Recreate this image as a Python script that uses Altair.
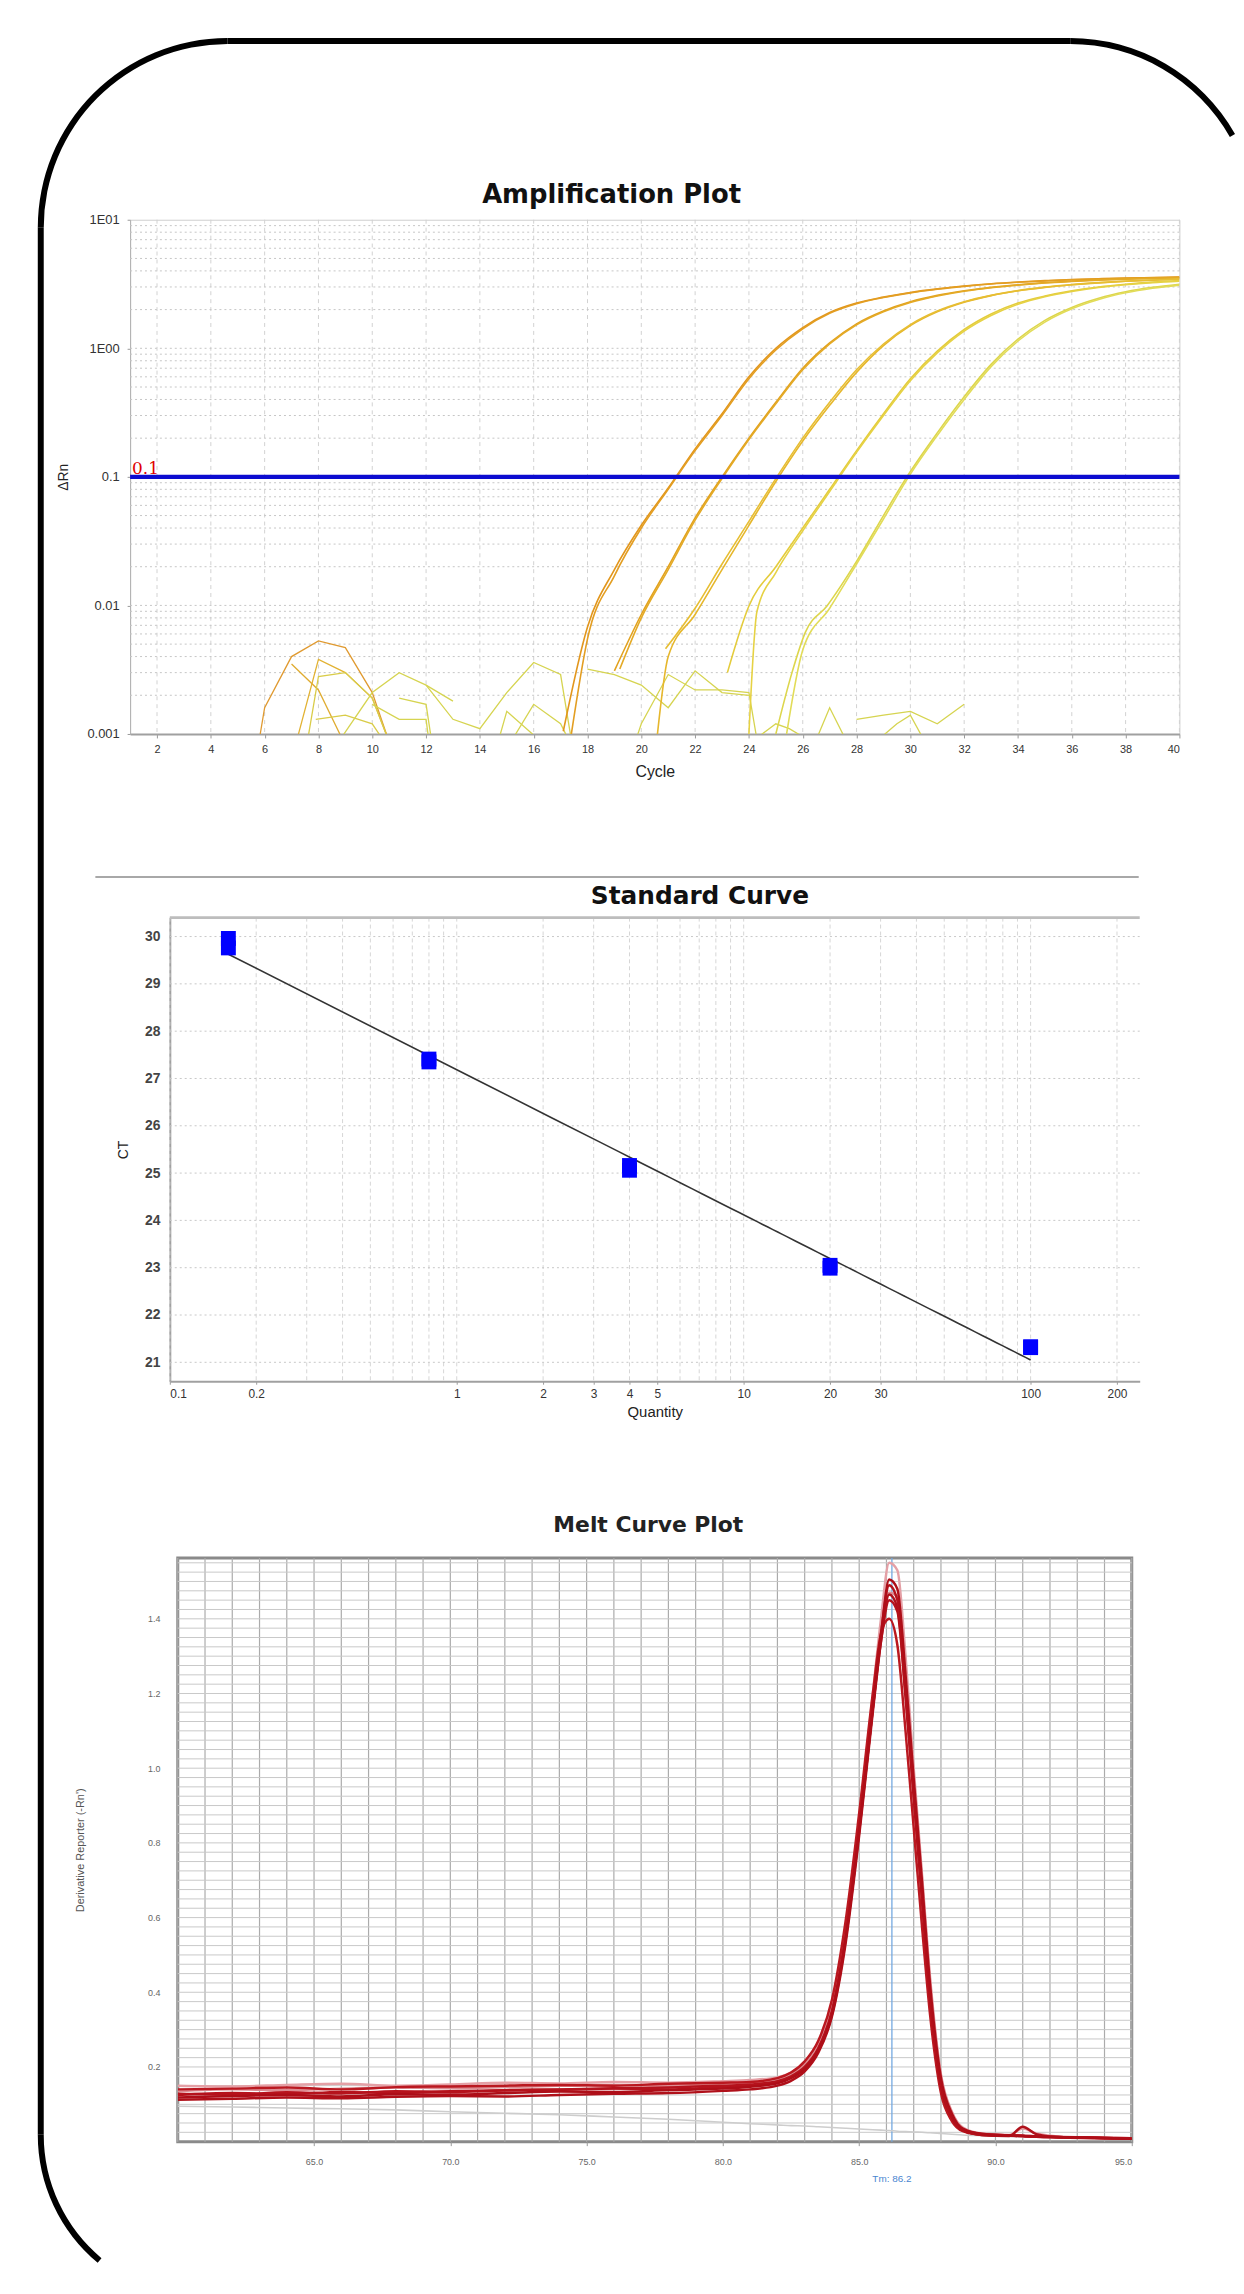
import altair as alt
import pandas as pd

# ---------------- Amplification plot (delta Rn vs cycle) ----------------
A1_CYC = [17.1, 18, 19, 20, 21, 22, 23, 24, 25, 26, 27, 28, 29, 30, 31, 32, 33, 34, 35, 36, 37, 38, 39, 40]
A1_VAL = [0.00105, 0.0068, 0.019, 0.042, 0.082, 0.165, 0.31, 0.6, 1.0, 1.45, 1.9, 2.25, 2.5, 2.72, 2.9, 3.05, 3.18, 3.28, 3.36, 3.43, 3.48, 3.52, 3.55, 3.58]
A2_CYC = [17.4, 18, 19, 20, 21, 22, 23, 24, 25, 26, 27, 28, 29, 30, 31, 32, 33, 34, 35, 36, 37, 38, 39, 40]
A2_VAL = [0.001, 0.0055, 0.017, 0.04, 0.08, 0.16, 0.30, 0.58, 0.97, 1.42, 1.87, 2.22, 2.48, 2.7, 2.88, 3.03, 3.16, 3.26, 3.34, 3.41, 3.46, 3.5, 3.53, 3.56]
B1_CYC = [19, 20, 21, 22, 23, 24, 25, 26, 27, 28, 29, 30, 31, 32, 33, 34, 35, 36, 37, 38, 39, 40]
B1_VAL = [0.0031, 0.0085, 0.02, 0.048, 0.1, 0.2, 0.38, 0.7, 1.1, 1.55, 1.95, 2.3, 2.58, 2.8, 2.98, 3.12, 3.24, 3.33, 3.41, 3.47, 3.52, 3.55]
B2_CYC = [19.2, 20, 21, 22, 23, 24, 25, 26, 27, 28, 29, 30, 31, 32, 33, 34, 35, 36, 37, 38, 39, 40]
B2_VAL = [0.0032, 0.008, 0.019, 0.046, 0.097, 0.195, 0.37, 0.68, 1.08, 1.52, 1.92, 2.27, 2.55, 2.78, 2.96, 3.1, 3.22, 3.31, 3.39, 3.45, 3.5, 3.53]
C1_CYC = [20.6, 21, 22, 23, 24, 25, 26, 27, 28, 29, 30, 31, 32, 33, 34, 35, 36, 37, 38, 39, 40]
C1_VAL = [0.001, 0.004, 0.0085, 0.019, 0.042, 0.092, 0.19, 0.36, 0.65, 1.05, 1.5, 1.92, 2.28, 2.57, 2.8, 2.98, 3.12, 3.23, 3.32, 3.39, 3.45]
C2_CYC = [20.9, 22, 23, 24, 25, 26, 27, 28, 29, 30, 31, 32, 33, 34, 35, 36, 37, 38, 39, 40]
C2_VAL = [0.0046, 0.0095, 0.021, 0.045, 0.097, 0.2, 0.38, 0.68, 1.08, 1.53, 1.95, 2.3, 2.58, 2.81, 2.99, 3.13, 3.24, 3.33, 3.4, 3.46]
D1_CYC = [23.2, 24, 25, 26, 27, 28, 29, 30, 31, 32, 33, 34, 35, 36, 37, 38, 39, 40]
D1_VAL = [0.003, 0.0099, 0.02, 0.04, 0.08, 0.16, 0.31, 0.58, 0.95, 1.4, 1.85, 2.25, 2.55, 2.8, 3.0, 3.15, 3.27, 3.36]
D2_CYC = [24.0, 24.3, 25, 26, 27, 28, 29, 30, 31, 32, 33, 34, 35, 36, 37, 38, 39, 40]
D2_VAL = [0.001, 0.009, 0.018, 0.038, 0.077, 0.155, 0.3, 0.56, 0.92, 1.36, 1.8, 2.2, 2.52, 2.77, 2.97, 3.12, 3.24, 3.33]
E1_CYC = [25.0, 25.6, 26.1, 26.9, 28, 29, 30, 31, 32, 33, 34, 35, 36, 37, 38, 39, 40]
E1_VAL = [0.001, 0.003, 0.0062, 0.0099, 0.022, 0.05, 0.11, 0.22, 0.42, 0.75, 1.18, 1.65, 2.08, 2.45, 2.75, 2.98, 3.15]
E2_CYC = [25.4, 26, 27, 28, 29, 30, 31, 32, 33, 34, 35, 36, 37, 38, 39, 40]
E2_VAL = [0.001, 0.0045, 0.0095, 0.021, 0.047, 0.105, 0.21, 0.4, 0.72, 1.14, 1.6, 2.03, 2.4, 2.7, 2.93, 3.1]

# baseline noise traces (below threshold)
N1_CYC = [5.8, 6, 7, 8, 9, 10, 10.6]
N1_VAL = [0.0009, 0.0016, 0.004, 0.0053, 0.0047, 0.0021, 0.0009]
N2_CYC = [7, 8, 8.9]
N2_VAL = [0.0035, 0.0022, 0.0009]
N3_CYC = [7.2, 8, 9, 10, 10.6]
N3_VAL = [0.0009, 0.0038, 0.003, 0.0019, 0.0009]
N4_CYC = [7.6, 8, 9, 10, 10.6]
N4_VAL = [0.0009, 0.0028, 0.003, 0.0019, 0.0009]
N5_CYC = [7.9, 9, 10, 10.4]
N5_VAL = [0.0013, 0.0014, 0.0012, 0.0009]
N6_CYC = [8.8, 10, 11, 12, 13]
N6_VAL = [0.0009, 0.0021, 0.003, 0.0024, 0.0018]
N7_CYC = [11, 12, 12.2]
N7_VAL = [0.0019, 0.0017, 0.0009]
N8_CYC = [10, 11, 12, 12.1]
N8_VAL = [0.0017, 0.0013, 0.0013, 0.0009]
N9_CYC = [12, 13, 14, 15, 16, 17, 17.4]
N9_VAL = [0.0024, 0.0013, 0.0011, 0.0021, 0.0036, 0.0029, 0.0009]
N10_CYC = [14.7, 15, 16, 16.5]
N10_VAL = [0.0009, 0.0015, 0.00098, 0.0009]
N11_CYC = [15.2, 16, 17, 17.3]
N11_VAL = [0.0009, 0.0017, 0.0012, 0.0009]
N12_CYC = [18, 19, 20, 21, 22, 23, 24]
N12_VAL = [0.0032, 0.0029, 0.0024, 0.0016, 0.0031, 0.0021, 0.002]
N13_CYC = [19.8, 20, 21, 22, 23, 24, 24.3]
N13_VAL = [0.0009, 0.0012, 0.0029, 0.0022, 0.0022, 0.0021, 0.0009]
N14_CYC = [24.2, 25, 25.5, 26.2]
N14_VAL = [0.0009, 0.0012, 0.0011, 0.0009]
N15_CYC = [26.5, 27, 27.6]
N15_VAL = [0.0009, 0.0016, 0.0009]
N16_CYC = [28, 29, 30, 31, 32]
N16_VAL = [0.0013, 0.0014, 0.0015, 0.0012, 0.0017]
N17_CYC = [28.8, 29.5, 30, 30.5]
N17_VAL = [0.0009, 0.0012, 0.0014, 0.0009]

AMP_X_TICKS = [2, 4, 6, 8, 10, 12, 14, 16, 18, 20, 22, 24, 26, 28, 30, 32, 34, 36, 38, 40]
AMP_Y_TICKS = [0.001, 0.01, 0.1, 1, 10]
THRESHOLD = 0.1

# ---------------- Standard curve ----------------
STD_QTY = [0.16, 0.16, 0.8, 0.8, 4, 4, 20, 20, 100, 100]
STD_CT = [29.96, 29.76, 27.41, 27.35, 25.16, 25.06, 23.05, 22.99, 21.33, 21.31]
STD_X_TICKS = [0.1, 0.2, 1, 2, 3, 4, 5, 10, 20, 30, 100, 200]
STD_Y_TICKS = [21, 22, 23, 24, 25, 26, 27, 28, 29, 30]

# ---------------- Melt curve ----------------
MELT_T = [60, 62, 64, 66, 68, 70, 72, 74, 76, 78, 80, 81, 82, 82.5, 83, 83.5, 84, 84.5, 85, 85.5,
          85.8, 86.1, 86.4, 86.7, 87, 87.3, 87.6, 88, 88.4, 88.8, 89.5, 90.5, 91, 91.5, 92.5, 94, 95]
M1 = [0.125, 0.130, 0.127, 0.133, 0.130, 0.135, 0.138, 0.140, 0.143, 0.145, 0.150, 0.153, 0.162, 0.175, 0.200, 0.250, 0.350, 0.550, 0.840, 1.170,
      1.360, 1.490, 1.450, 1.220, 0.950, 0.680, 0.400, 0.160, 0.070, 0.032, 0.020, 0.016, 0.015, 0.014, 0.012, 0.010, 0.008]
M2 = [0.112, 0.115, 0.118, 0.116, 0.120, 0.122, 0.121, 0.125, 0.128, 0.130, 0.136, 0.140, 0.150, 0.163, 0.188, 0.238, 0.335, 0.530, 0.820, 1.150,
      1.340, 1.465, 1.430, 1.200, 0.930, 0.660, 0.390, 0.150, 0.065, 0.030, 0.018, 0.015, 0.040, 0.020, 0.011, 0.009, 0.008]
M3 = [0.140, 0.142, 0.145, 0.140, 0.146, 0.148, 0.150, 0.152, 0.150, 0.155, 0.158, 0.160, 0.170, 0.185, 0.215, 0.270, 0.380, 0.590, 0.880, 1.200,
      1.360, 1.400, 1.330, 1.100, 0.840, 0.580, 0.340, 0.130, 0.055, 0.028, 0.018, 0.016, 0.015, 0.013, 0.012, 0.010, 0.009]
M4 = [0.118, 0.122, 0.125, 0.121, 0.127, 0.126, 0.130, 0.134, 0.133, 0.138, 0.142, 0.147, 0.156, 0.170, 0.195, 0.245, 0.340, 0.540, 0.830, 1.160,
      1.355, 1.505, 1.480, 1.250, 0.970, 0.700, 0.420, 0.170, 0.075, 0.035, 0.021, 0.017, 0.016, 0.014, 0.012, 0.010, 0.008]
M5 = [0.150, 0.148, 0.152, 0.155, 0.150, 0.153, 0.158, 0.156, 0.160, 0.158, 0.162, 0.165, 0.172, 0.185, 0.210, 0.260, 0.360, 0.560, 0.860, 1.200,
      1.400, 1.550, 1.530, 1.300, 1.000, 0.720, 0.440, 0.180, 0.080, 0.038, 0.022, 0.018, 0.035, 0.022, 0.013, 0.010, 0.009]
M6 = [0.135, 0.140, 0.138, 0.142, 0.145, 0.143, 0.146, 0.150, 0.152, 0.150, 0.155, 0.158, 0.166, 0.180, 0.205, 0.255, 0.355, 0.555, 0.850, 1.180,
      1.370, 1.470, 1.460, 1.260, 0.980, 0.710, 0.430, 0.175, 0.078, 0.036, 0.021, 0.017, 0.016, 0.014, 0.012, 0.010, 0.009]
M7 = [0.128, 0.126, 0.132, 0.129, 0.135, 0.133, 0.137, 0.139, 0.142, 0.140, 0.147, 0.150, 0.158, 0.172, 0.197, 0.247, 0.345, 0.545, 0.835, 1.160,
      1.340, 1.450, 1.420, 1.190, 0.920, 0.650, 0.380, 0.150, 0.066, 0.031, 0.019, 0.016, 0.015, 0.013, 0.012, 0.010, 0.008]
MG = [0.095, 0.093, 0.090, 0.088, 0.085, 0.080, 0.076, 0.072, 0.066, 0.060, 0.052, 0.048, 0.045, 0.043, 0.042, 0.040, 0.038, 0.036, 0.034, 0.032,
      0.031, 0.030, 0.028, 0.027, 0.026, 0.025, 0.024, 0.022, 0.020, 0.018, 0.016, 0.014, 0.013, 0.012, 0.011, 0.010, 0.010]
MELT_X_TICKS = [65, 70, 75, 80, 85, 90, 95]
MELT_Y_TICKS = [0.2, 0.4, 0.6, 0.8, 1.0, 1.2, 1.4]
TM = 86.2

# ---------------- styles ----------------
AMP_COLORS = {"A1": "#E2961C", "A2": "#E39E22", "B1": "#E2A21E", "B2": "#E4AA26", "C1": "#E6B72C",
              "C2": "#E7BE32", "D1": "#E4CC3C", "D2": "#E6D244", "E1": "#DDD64C", "E2": "#E2DC58"}
NOISE_COLORS = {"N1": "#E09A30", "N2": "#E0AC30", "N3": "#E2B232", "N4": "#D9CC48", "N5": "#D9CC48"}
NOISE_DEFAULT = "#D6D450"
MELT_COLORS = {"M5": "#E4A0A6", "M6": "#DC8C92", "M1": "#B5121C", "M2": "#B0101A",
               "M3": "#BA1820", "M4": "#AE0E18", "M7": "#B8141E"}
MELT_GRAY = {"G": "#CDCDCD"}
FONT = "Liberation Sans"
TFONT = "DejaVu Sans"


def long_df(items, xname, yname, colors, default="#000000"):
    rows = []
    for name, xs, ys in items:
        for i, (a, b) in enumerate(zip(xs, ys)):
            rows.append({"series": name, xname: a, yname: b, "ord": i,
                         "col": colors.get(name, default)})
    return pd.DataFrame(rows)


amp_curves = long_df([("A1", A1_CYC, A1_VAL), ("A2", A2_CYC, A2_VAL), ("B1", B1_CYC, B1_VAL),
                      ("B2", B2_CYC, B2_VAL), ("C1", C1_CYC, C1_VAL), ("C2", C2_CYC, C2_VAL),
                      ("D1", D1_CYC, D1_VAL), ("D2", D2_CYC, D2_VAL), ("E1", E1_CYC, E1_VAL),
                      ("E2", E2_CYC, E2_VAL)], "cycle", "drn", AMP_COLORS)
amp_noise = long_df([("N1", N1_CYC, N1_VAL), ("N2", N2_CYC, N2_VAL), ("N3", N3_CYC, N3_VAL),
                     ("N4", N4_CYC, N4_VAL), ("N5", N5_CYC, N5_VAL), ("N6", N6_CYC, N6_VAL),
                     ("N7", N7_CYC, N7_VAL), ("N8", N8_CYC, N8_VAL), ("N9", N9_CYC, N9_VAL),
                     ("N10", N10_CYC, N10_VAL), ("N11", N11_CYC, N11_VAL), ("N12", N12_CYC, N12_VAL),
                     ("N13", N13_CYC, N13_VAL), ("N14", N14_CYC, N14_VAL), ("N15", N15_CYC, N15_VAL),
                     ("N16", N16_CYC, N16_VAL), ("N17", N17_CYC, N17_VAL)], "cycle", "drn",
                    NOISE_COLORS, NOISE_DEFAULT)

one = pd.DataFrame({"k": [0]})

# ================= Amplification panel =================
AX = alt.Scale(domain=[1, 40], nice=False, zero=False)
AY = alt.Scale(type="log", domain=[0.001, 10], nice=False)
AXIS_AX = alt.Axis(values=AMP_X_TICKS, grid=False, tickSize=4, tickColor="#999",
                   domainColor="#a0a0a0", domainWidth=2, labelFont=FONT, labelFontSize=11,
                   labelColor="#333", labelPadding=6, titleFont=FONT, titleFontSize=16,
                   titleFontWeight="normal", titleColor="#222", titlePadding=9)
AXIS_AY = alt.Axis(values=AMP_Y_TICKS, grid=False, tickSize=3, tickColor="#999",
                   domainColor="#b0b0b0", domainWidth=1, labelFont=FONT, labelFontSize=13,
                   labelColor="#333", labelPadding=8,
                   labelExpr="datum.value < 0.005 ? '0.001' : datum.value < 0.05 ? '0.01' : datum.value < 0.5 ? '0.1' : datum.value < 5 ? '1E00' : '1E01'",
                   titleFont=FONT, titleFontSize=14, titleFontWeight="normal",
                   titleColor="#222", titlePadding=17)


def ax(field):
    return alt.X(field, scale=AX, axis=AXIS_AX, title="Cycle")


def ay(field):
    return alt.Y(field, scale=AY, axis=AXIS_AY, title="ΔRn")


amp_vgrid = alt.Chart(pd.DataFrame({"g": AMP_X_TICKS})).mark_rule(
    color="#d2d2d2", strokeWidth=1, strokeDash=[4, 4]).encode(x=ax("g:Q"))
amp_minor = [m * 10.0 ** e for e in range(-3, 1) for m in range(2, 10)] + [0.01, 0.1, 1.0]
amp_hgrid = alt.Chart(pd.DataFrame({"g": amp_minor})).mark_rule(
    color="#c6c6c6", strokeWidth=1, strokeDash=[2, 3]).encode(y=ay("g:Q"))
amp_noise_layer = alt.Chart(amp_noise).mark_line(clip=True, strokeWidth=1.3).encode(
    x=ax("cycle:Q"), y=ay("drn:Q"), color=alt.Color("col:N", scale=None),
    detail="series:N", order="ord:Q")
amp_curve_layer = alt.Chart(amp_curves).mark_line(clip=True, strokeWidth=1.6,
                                                  interpolate="monotone").encode(
    x=ax("cycle:Q"), y=ay("drn:Q"), color=alt.Color("col:N", scale=None),
    detail="series:N", order="ord:Q")
thr_df = pd.DataFrame({"y": [THRESHOLD], "x": [1], "t": ["0.1"]})
amp_thr = alt.Chart(thr_df).mark_rule(color="#0C0CD0", strokeWidth=4.5).encode(y=ay("y:Q"))
amp_thr_lbl = alt.Chart(thr_df).mark_text(
    align="left", baseline="bottom", dx=2, dy=1, font="DejaVu Serif", fontSize=17,
    color="#E00000").encode(x=ax("x:Q"), y=ay("y:Q"), text="t:N")
amp_title = alt.Chart(one).mark_text(
    text="Amplification Plot", font=TFONT, fontSize=26, fontWeight="bold", color="#111",
    align="center", baseline="alphabetic").encode(x=alt.value(485), y=alt.value(-17))

# decorative rounded frame around the whole figure (pixel offsets from this panel)
frame_left = alt.Chart(one).mark_rule(color="black", strokeWidth=6).encode(
    x=alt.value(-90), y=alt.value(8), y2=alt.value(1929))
frame_top = alt.Chart(one).mark_rule(color="black", strokeWidth=6).encode(
    x=alt.value(98), x2=alt.value(947), y=alt.value(-180))
corner_tl = alt.Chart(one).mark_arc(color="black").encode(
    x=alt.value(98), y=alt.value(8), theta=alt.value(4.7124), theta2=alt.value(6.2832),
    radius=alt.value(191), radius2=alt.value(185))
corner_tr = alt.Chart(one).mark_arc(color="black").encode(
    x=alt.value(947), y=alt.value(8), theta=alt.value(0.0), theta2=alt.value(1.0536),
    radius=alt.value(191), radius2=alt.value(185))
corner_bl = alt.Chart(one).mark_arc(color="black").encode(
    x=alt.value(75), y=alt.value(1929), theta=alt.value(3.8373), theta2=alt.value(4.7124),
    radius=alt.value(168), radius2=alt.value(162))

amp = alt.layer(amp_vgrid, amp_hgrid, amp_noise_layer, amp_curve_layer, amp_thr, amp_thr_lbl,
                amp_title, frame_left, frame_top, corner_tl, corner_tr, corner_bl).properties(
    width=1057, height=518, view=alt.ViewBackground(stroke="#cfcfcf", strokeWidth=1))

# ================= Standard curve panel =================
STD_H = 474
STD_TOP = 7
std_df = pd.DataFrame({"qty": STD_QTY, "ct": STD_CT})
SX = alt.Scale(type="log", domain=[0.1, 240], nice=False)
SY = alt.Scale(domain=[20.6, 30.4], nice=False, zero=False, range=[STD_H, STD_TOP])
AXIS_SX = alt.Axis(values=STD_X_TICKS, format="~g", grid=False, tickSize=3, tickColor="#999",
                   domainColor="#a0a0a0", domainWidth=2, labelFont=FONT, labelFontSize=12,
                   labelColor="#333", labelPadding=4, titleFont=FONT, titleFontSize=15,
                   titleFontWeight="normal", titleColor="#222", titlePadding=6)
AXIS_SY = alt.Axis(values=STD_Y_TICKS, grid=False, tickSize=0, domainColor="#a0a0a0",
                   domainWidth=2, labelFont=FONT, labelFontSize=14, labelFontWeight="bold",
                   labelColor="#444", labelPadding=10, titleFont=FONT, titleFontSize=14,
                   titleFontWeight="normal", titleColor="#222", titlePadding=14)


def sx(field):
    return alt.X(field, scale=SX, axis=AXIS_SX, title="Quantity")


def sy(field):
    return alt.Y(field, scale=SY, axis=AXIS_SY, title="CT")


std_vg = [m * 10.0 ** e for e in range(-1, 2) for m in range(1, 10)] + [100, 200]
std_vgrid = alt.Chart(pd.DataFrame({"g": std_vg})).mark_rule(
    color="#d6d6d6", strokeWidth=1, strokeDash=[4, 3]).encode(
    x=sx("g:Q"), y=alt.value(STD_TOP), y2=alt.value(STD_H))
std_hgrid = alt.Chart(pd.DataFrame({"g": STD_Y_TICKS})).mark_rule(
    color="#c8c8c8", strokeWidth=1, strokeDash=[2, 3]).encode(y=sy("g:Q"))
std_top = alt.Chart(one).mark_rule(color="#bdbdbd", strokeWidth=3).encode(
    x=alt.value(0), x2=alt.value(977), y=alt.value(STD_TOP))
std_sep = alt.Chart(one).mark_rule(color="#a8a8a8", strokeWidth=2).encode(
    x=alt.value(-75), x2=alt.value(976), y=alt.value(-34))
std_fit = alt.Chart(std_df).transform_regression(
    "qty", "ct", method="log", extent=[0.16, 100]).mark_line(
    color="#333333", strokeWidth=1.6).encode(x=sx("qty:Q"), y=sy("ct:Q"))
std_pts = alt.Chart(std_df).mark_square(size=225, color="#0000FF", opacity=1).encode(
    x=sx("qty:Q"), y=sy("ct:Q"))
std_title = alt.Chart(one).mark_text(
    text="Standard Curve", font=TFONT, fontSize=25, fontWeight="bold", color="#111",
    align="center", baseline="alphabetic").encode(x=alt.value(534), y=alt.value(-7))

std = alt.layer(std_vgrid, std_hgrid, std_top, std_sep, std_fit, std_pts, std_title).properties(
    width=977, height=STD_H, view=alt.ViewBackground(strokeWidth=0))

# ================= Melt curve panel =================
melt_df = long_df([("M5", MELT_T, M5), ("M6", MELT_T, M6), ("M3", MELT_T, M3),
                   ("M7", MELT_T, M7), ("M2", MELT_T, M2), ("M1", MELT_T, M1), ("M4", MELT_T, M4)],
                  "temp", "deriv", MELT_COLORS)
melt_gray_df = long_df([("G", MELT_T, MG)], "temp", "deriv", MELT_GRAY)
MX = alt.Scale(domain=[60, 95], nice=False, zero=False)
MY = alt.Scale(domain=[0, 1.563], nice=False, zero=False)
AXIS_MX = alt.Axis(values=MELT_X_TICKS, format=".1f", grid=False, tickSize=4, tickColor="#999",
                   domain=False, labelFont=FONT, labelFontSize=9, labelColor="#666",
                   labelPadding=12)
AXIS_MY = alt.Axis(values=MELT_Y_TICKS, format=".1f", grid=False, ticks=False, domain=False,
                   labelFont=FONT, labelFontSize=9, labelColor="#666", labelPadding=18,
                   titleFont=FONT, titleFontSize=11, titleFontWeight="normal",
                   titleColor="#555", titlePadding=62)


def mx(field):
    return alt.X(field, scale=MX, axis=AXIS_MX, title=None)


def my(field):
    return alt.Y(field, scale=MY, axis=AXIS_MY, title="Derivative Reporter (-Rn')")


melt_vgrid = alt.Chart(pd.DataFrame({"g": list(range(60, 96))})).mark_rule(
    color="#ababab", strokeWidth=1.2).encode(x=mx("g:Q"))
melt_hgrid = alt.Chart(pd.DataFrame({"g": [k * 0.025 for k in range(1, 63)]})).mark_rule(
    color="#c9c9c9", strokeWidth=1).encode(y=my("g:Q"))
tm_df = pd.DataFrame({"tm": [TM], "t": ["Tm: 86.2"]})
melt_tm = alt.Chart(tm_df).mark_rule(color="#74A8E0", strokeWidth=1.3).encode(x=mx("tm:Q"))
melt_tm_lbl = alt.Chart(tm_df).mark_text(font=FONT, fontSize=10, color="#4A86D0").encode(
    x=mx("tm:Q"), y=alt.value(626), text="t:N")
melt_gray = alt.Chart(melt_gray_df).mark_line(clip=True, strokeWidth=1.6,
                                              interpolate="monotone").encode(
    x=mx("temp:Q"), y=my("deriv:Q"), color=alt.Color("col:N", scale=None),
    detail="series:N", order="ord:Q")
melt_lines = alt.Chart(melt_df).mark_line(clip=True, strokeWidth=2.5,
                                          interpolate="monotone").encode(
    x=mx("temp:Q"), y=my("deriv:Q"), color=alt.Color("col:N", scale=None),
    detail="series:N", order="ord:Q")
melt_title = alt.Chart(one).mark_text(
    text="Melt Curve Plot", font=TFONT, fontSize=22, fontWeight="bold", color="#222",
    align="center", baseline="alphabetic").encode(x=alt.value(474), y=alt.value(-26))

melt = alt.layer(melt_vgrid, melt_hgrid, melt_tm, melt_gray, melt_lines, melt_tm_lbl,
                 melt_title).properties(
    width=961, height=588, view=alt.ViewBackground(stroke="#8a8a8a", strokeWidth=3))

chart = alt.vconcat(amp, std, melt, spacing=178, bounds="flush", center=True).properties(
    padding={"left": 29, "top": 21, "right": 0, "bottom": 0},
    background="white").configure(font=FONT)

chart.save("out.html", embed_options={"renderer": "svg", "actions": False})
